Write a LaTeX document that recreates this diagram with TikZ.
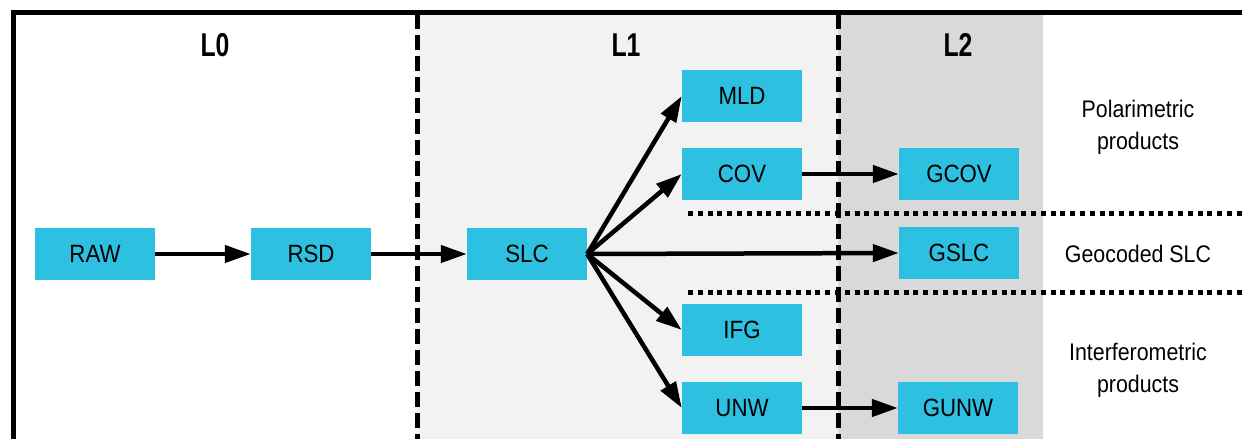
\documentclass[tikz,border=0pt]{standalone}
\usepackage{fontspec}
\setmainfont{Liberation Sans}[FakeStretch=0.89]
\newfontfamily\lblfont{Liberation Sans}[FakeStretch=0.75]
\usetikzlibrary{arrows.meta}
\definecolor{boxcyan}{RGB}{46,192,224}
\definecolor{lightgr}{RGB}{242,242,242}
\definecolor{darkgr}{RGB}{217,217,217}
\tikzset{
  prod/.style={fill=boxcyan, draw=none, minimum width=120pt, minimum height=52pt, inner sep=0pt, font=\fontsize{25}{28}\selectfont},
  lvl/.style={font=\lblfont\bfseries\fontsize{33}{36}\selectfont},
  side/.style={align=center, font=\fontsize{24}{32}\selectfont},
  flow/.style={line width=4.5pt, -{Triangle[length=26pt,width=17pt]}},
  sep/.style={line width=5pt, dash pattern=on 15pt off 6pt},
  dotsep/.style={line width=5pt, dash pattern=on 5pt off 4.8pt},
  frame/.style={line width=5pt, line join=miter}
}
\begin{document}
\begin{tikzpicture}[x=1pt,y=-1pt]
\useasboundingbox (0,0) rectangle (1242,439);
% region fills
\fill[lightgr] (417,12) rectangle (838,439);
\fill[darkgr] (838,12) rectangle (1043,439);
% frame
\draw[frame] (13,439) -- (13,12) -- (1242,12);
% level separators
\coordinate (s1t) at (417,14); \coordinate (s1b) at (417,439);
\coordinate (s2t) at (838,14); \coordinate (s2b) at (838,439);
\draw[sep] (s1t) -- (s1b);
\draw[sep] (s2t) -- (s2b);
% dotted separators
\coordinate (d1a) at (688,213); \coordinate (d1b) at (1242,213);
\coordinate (d2a) at (688,292); \coordinate (d2b) at (1242,292);
\draw[dotsep] (d1a) -- (d1b);
\draw[dotsep] (d2a) -- (d2b);
% level labels
\node[lvl] (L0) at (215,45) {L0};
\node[lvl] (L1) at (626,45) {L1};
\node[lvl] (L2) at (958,45) {L2};
% products
\node[prod] (RAW) at (95,254) {RAW};
\node[prod] (RSD) at (311,254) {RSD};
\node[prod] (SLC) at (527,254) {SLC};
\node[prod] (MLD) at (742,96) {MLD};
\node[prod] (COV) at (742,174) {COV};
\node[prod] (IFG) at (742,330) {IFG};
\node[prod] (UNW) at (742,408) {UNW};
\node[prod] (GCOV) at (959,174) {GCOV};
\node[prod] (GSLC) at (959,253) {GSLC};
\node[prod] (GUNW) at (958,408) {GUNW};
% side labels
\node[side] (pol) at (1138,127) {Polarimetric\\products};
\node[side] (geo) at (1138,254) {Geocoded SLC};
\node[side] (int) at (1138,370) {Interferometric\\products};
% flows
\draw[flow] (RAW.east) -- (RSD.west);
\draw[flow] (RSD.east) -- (SLC.west);
\draw[flow] (SLC.east) -- (MLD.west);
\draw[flow] (SLC.east) -- (COV.west);
\draw[flow] (SLC.east) -- (GSLC.west);
\draw[flow] (SLC.east) -- (IFG.west);
\draw[flow] (SLC.east) -- (UNW.west);
\draw[flow] (COV.east) -- (GCOV.west);
\draw[flow] (UNW.east) -- (GUNW.west);
\end{tikzpicture}
\end{document}
